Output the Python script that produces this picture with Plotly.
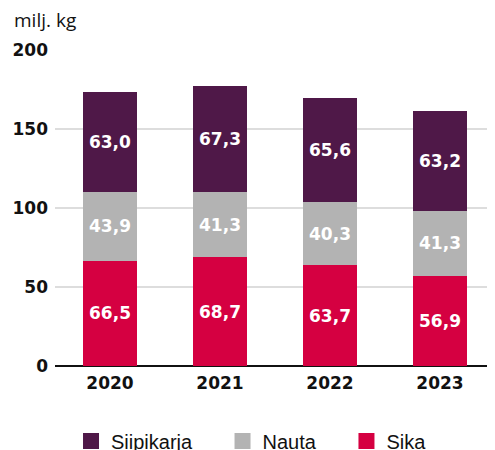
import plotly.graph_objects as go

years = ['2020', '2021', '2022', '2023']
sika = [66.5, 68.7, 63.7, 56.9]
nauta = [43.9, 41.3, 40.3, 41.3]
siipikarja = [63.0, 67.3, 65.6, 63.2]

# name, values, colour, legend id, legend x (container)
series = [
    ('Sika', sika, '#d50041', 'legend3', 0.695),
    ('Nauta', nauta, '#b3b3b3', 'legend2', 0.4405),
    ('Siipikarja', siipikarja, '#4f1848', 'legend', 0.1294),
]

num_font = 'DejaVu Sans'

fig = go.Figure()
for name, vals, color, leg, lx in series:
    fig.add_trace(go.Bar(
        x=years, y=vals, name=name, showlegend=False,
        marker=dict(color=color, line=dict(width=0)),
        text=[f"{v:.1f}".replace('.', ',') for v in vals],
        textposition='inside', insidetextanchor='middle',
        textfont=dict(color='white', size=17, family=num_font, weight='bold'),
        hoverinfo='skip',
    ))
    # legend entry with a bigger square
    fig.add_trace(go.Scatter(
        x=[None], y=[None], name=name, mode='markers', legend=leg,
        marker=dict(symbol='square', size=18, color=color),
        hoverinfo='skip',
    ))

leg_common = dict(
    orientation='h', xref='container', yref='container',
    xanchor='left', yanchor='middle', y=0.0204,
    bgcolor='rgba(0,0,0,0)',
    font=dict(size=20, family='Liberation Sans', color='#111111'),
)

# page body has an 8px margin, so the figure is 8px smaller each way
fig.update_layout(
    barmode='stack', bargap=0.51,
    width=487, height=442,
    margin=dict(l=47, r=0, t=42, b=84),
    plot_bgcolor='white', paper_bgcolor='white',
    font=dict(family='Open Sans', color='#111111'),
    uniformtext=dict(mode='show', minsize=10),
    xaxis=dict(
        tickfont=dict(size=17, family=num_font, weight='bold', color='#111111'),
        showgrid=False, ticks='', showline=False, ticklabelstandoff=5,
    ),
    yaxis=dict(
        range=[0, 200], dtick=50,
        tickfont=dict(size=17, family=num_font, weight='bold', color='#111111'),
        gridcolor='#dddddd', gridwidth=1.5,
        zeroline=True, zerolinecolor='#111111', zerolinewidth=1.5,
        ticks='', ticklabelstandoff=6,
    ),
    legend=dict(leg_common, x=series[2][4]),
    legend2=dict(leg_common, x=series[1][4]),
    legend3=dict(leg_common, x=series[0][4]),
    annotations=[dict(
        text='milj. kg', xref='paper', yref='paper', x=-0.0977, y=1.094,
        xanchor='left', yanchor='middle', showarrow=False,
        font=dict(size=19, family='Open Sans', color='#111111'),
    )],
)

fig.write_html("out.html")
